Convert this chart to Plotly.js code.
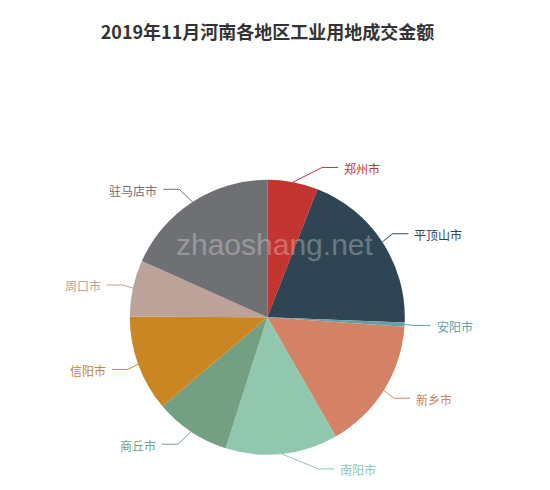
<!DOCTYPE html>
<html>
<head>
<meta charset="utf-8">
<script src="https://cdn.plot.ly/plotly-3.0.1.min.js"></script>
<style>
  html, body { margin: 0; padding: 0; background: #fff; }
  #chart { width: 550px; height: 490px; }
</style>
</head>
<body>
<div id="chart"></div>
<script>
// 2019年11月 industrial land transaction amounts by city (share)
const cities = ['郑州市', '平顶山市', '安阳市', '新乡市', '南阳市', '商丘市', '信阳市', '周口市', '驻马店市'];
const amounts = [5.95, 19.65, 0.5, 15.6, 13.2, 8.9, 11.3, 6.6, 18.3];
const colors = ['#c23531', '#2f4554', '#61a0a8', '#d48265', '#91c7ae', '#749f83', '#ca8622', '#bda29a', '#6e7074'];

const W = 550, H = 490;
const cx = 267.3, cy = 317.3, r = 137.5;   // pie centre / radius in pixels
const len1 = 15, len2 = 15;                 // leader line lengths (echarts style)
const font = '"Noto Sans CJK SC", "Noto Sans", sans-serif';

const px = x => x / W;
const py = y => 1 - y / H;

const trace = {
  type: 'pie',
  labels: cities,
  values: amounts,
  sort: false,
  direction: 'clockwise',
  rotation: 0,
  marker: { colors, line: { width: 0 } },
  textinfo: 'none',
  hoverinfo: 'none',
  showlegend: false,
  domain: {
    x: [px(cx - r), px(cx + r)],
    y: [py(cy + r), py(cy - r)],
  },
};

// Outside labels with bent leader lines, placed from each slice's mid angle
const shapes = [];
const annotations = [];
const total = amounts.reduce((a, b) => a + b, 0);
let cum = 0;
amounts.forEach((v, i) => {
  const theta = (cum + v / 2) / total * 2 * Math.PI;
  cum += v;
  const s = Math.sin(theta), c = Math.cos(theta);
  const dir = s >= 0 ? 1 : -1;
  const sx = cx + r * s, sy = cy - r * c;
  const ly = cy - (r + len1) * c;
  const R2 = r + len1 + len2;
  const dy = ly - cy;
  const tx = cx + dir * Math.sqrt(Math.max(R2 * R2 - dy * dy, 0));
  const ex = tx - dir * 20, endx = tx - dir * 4;

  shapes.push({
    type: 'path',
    xref: 'paper', yref: 'paper',
    path: `M ${px(sx)},${py(sy)} L ${px(ex)},${py(ly)} L ${px(endx)},${py(ly)}`,
    line: { color: colors[i], width: 1 },
  });
  annotations.push({
    xref: 'paper', yref: 'paper',
    x: px(tx), y: py(ly + 1),
    xanchor: dir > 0 ? 'left' : 'right',
    yanchor: 'middle',
    text: cities[i],
    showarrow: false,
    font: { family: font, size: 12, color: colors[i] },
  });
});

// watermark
annotations.push({
  xref: 'paper', yref: 'paper',
  x: px(274), y: py(244),
  xanchor: 'center', yanchor: 'middle',
  text: 'zhaoshang.net',
  showarrow: false,
  font: { family: '"Liberation Sans", Arial, sans-serif', size: 30, color: 'rgba(255,255,255,0.3)' },
});

const layout = {
  width: W,
  height: H,
  margin: { l: 0, r: 0, t: 0, b: 0 },
  title: {
    text: '<b>2019年11月河南各地区工业用地成交金额</b>',
    x: px(267.5), xanchor: 'center',
    y: py(33), yanchor: 'middle',
    font: { family: font, size: 18, color: '#333' },
  },
  shapes,
  annotations,
  paper_bgcolor: '#fff',
  plot_bgcolor: '#fff',
  font: { family: font },
};

Plotly.newPlot('chart', [trace], layout, { displayModeBar: false, staticPlot: true });
</script>
</body>
</html>
